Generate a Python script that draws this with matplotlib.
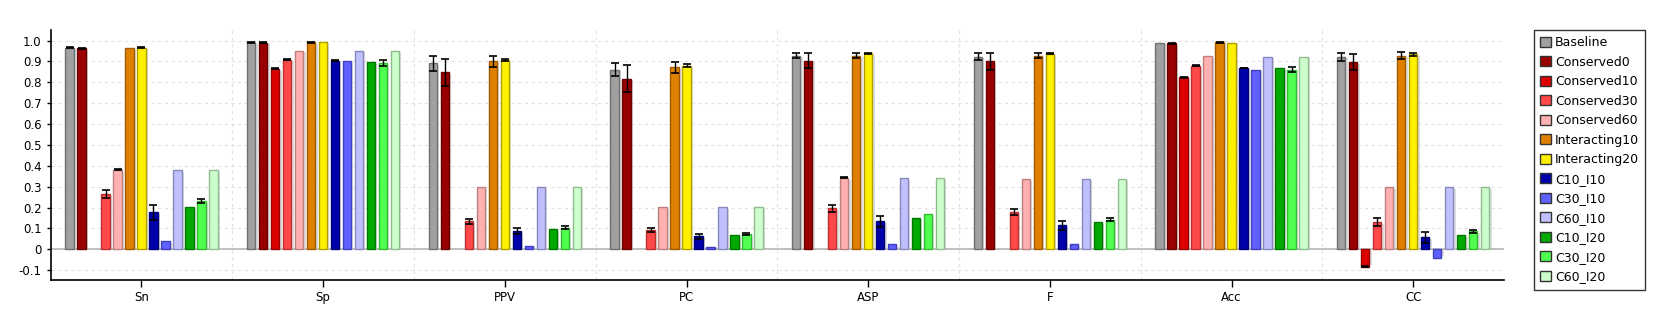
import numpy as np
import matplotlib
matplotlib.use('Agg')
import matplotlib.pyplot as plt
from matplotlib.patches import Patch

metrics = ['Sn', 'Sp', 'PPV', 'PC', 'ASP', 'F', 'Acc', 'CC']
series = ['Baseline', 'Conserved0', 'Conserved10', 'Conserved30', 'Conserved60',
          'Interacting10', 'Interacting20', 'C10_I10', 'C30_I10', 'C60_I10',
          'C10_I20', 'C30_I20', 'C60_I20']

# values per series, one entry per metric (Sn, Sp, PPV, PC, ASP, F, Acc, CC)
baseline      = [0.966, 0.992, 0.890, 0.861, 0.928, 0.923, 0.990, 0.923]
conserved0    = [0.962, 0.990, 0.847, 0.818, 0.904, 0.900, 0.986, 0.895]
conserved10   = [0.0, 0.864, 0.0, 0.0, 0.0, 0.0, 0.823, -0.083]
conserved30   = [0.263, 0.909, 0.134, 0.094, 0.196, 0.177, 0.880, 0.129]
conserved60   = [0.381, 0.952, 0.300, 0.204, 0.343, 0.338, 0.927, 0.300]
interacting10 = [0.962, 0.992, 0.900, 0.871, 0.928, 0.928, 0.992, 0.928]
interacting20 = [0.966, 0.995, 0.907, 0.880, 0.938, 0.936, 0.990, 0.933]
c10_i10       = [0.177, 0.903, 0.086, 0.062, 0.134, 0.115, 0.868, 0.057]
c30_i10       = [0.038, 0.903, 0.018, 0.013, 0.027, 0.027, 0.861, -0.043]
c60_i10       = [0.381, 0.952, 0.300, 0.204, 0.343, 0.338, 0.923, 0.300]
c10_i20       = [0.201, 0.898, 0.096, 0.070, 0.148, 0.129, 0.866, 0.070]
c30_i20       = [0.230, 0.893, 0.104, 0.075, 0.167, 0.142, 0.861, 0.086]
c60_i20       = [0.381, 0.952, 0.300, 0.204, 0.343, 0.338, 0.923, 0.300]

# error bar half widths
err_baseline      = [0.003, 0.002, 0.035, 0.032, 0.014, 0.018, 0.0, 0.019]
err_conserved0    = [0.003, 0.004, 0.066, 0.065, 0.035, 0.040, 0.003, 0.038]
err_conserved10   = [0.0, 0.002, 0.0, 0.0, 0.0, 0.0, 0.003, 0.003]
err_conserved30   = [0.019, 0.002, 0.013, 0.010, 0.017, 0.014, 0.004, 0.019]
err_conserved60   = [0.003, 0.0, 0.0, 0.0, 0.002, 0.0, 0.0, 0.0]
err_interacting10 = [0.0, 0.002, 0.027, 0.025, 0.013, 0.013, 0.002, 0.018]
err_interacting20 = [0.003, 0.0, 0.004, 0.006, 0.003, 0.003, 0.0, 0.005]
err_c10_i10       = [0.035, 0.002, 0.014, 0.013, 0.025, 0.022, 0.002, 0.027]
err_c30_i10       = [0.0, 0.0, 0.0, 0.0, 0.0, 0.0, 0.0, 0.0]
err_c60_i10       = [0.0, 0.0, 0.0, 0.0, 0.0, 0.0, 0.0, 0.0]
err_c10_i20       = [0.0, 0.0, 0.0, 0.0, 0.0, 0.0, 0.0, 0.0]
err_c30_i20       = [0.010, 0.014, 0.007, 0.005, 0.0, 0.007, 0.013, 0.007]
err_c60_i20       = [0.0, 0.0, 0.0, 0.0, 0.0, 0.0, 0.0, 0.0]

values = [baseline, conserved0, conserved10, conserved30, conserved60, interacting10,
          interacting20, c10_i10, c30_i10, c60_i10, c10_i20, c30_i20, c60_i20]
errors = [err_baseline, err_conserved0, err_conserved10, err_conserved30, err_conserved60,
          err_interacting10, err_interacting20, err_c10_i10, err_c30_i10, err_c60_i10,
          err_c10_i20, err_c30_i20, err_c60_i20]

colors = ['#a0a0a0', '#990000', '#dd0000', '#ff4848', '#ffb0b0', '#e08000', '#fff000',
          '#0000aa', '#6060ff', '#c0c0ff', '#00aa00', '#50ff50', '#ccffcc']
edges = ['#707070', '#6a0000', '#990000', '#bb3030', '#bb8080', '#a05a00', '#b0a000',
         '#000077', '#4040bb', '#8888bb', '#007700', '#30bb30', '#90bb90']

fig = plt.figure(figsize=(16.66, 3.34), dpi=100)
ax = fig.add_axes([0.0304, 0.1608, 0.8724, 0.7492])

ind = np.arange(len(metrics))
step = 0.066
width = 0.0457

for i in range(len(series)):
    v = np.array(values[i])
    e = np.array(errors[i])
    keep = v != 0
    x = (ind + (i - 6) * step)[keep]
    v = v[keep]
    e = e[keep]
    # light shadow to the right of each bar
    ax.bar(x + 0.012, v - 0.009 * np.sign(v), width, color='#dedede', zorder=2, linewidth=0)
    ax.bar(x, v, width, color=colors[i], edgecolor=edges[i], linewidth=1, zorder=3)
    m = e > 0
    ax.errorbar(x[m], v[m], yerr=e[m], fmt='none', ecolor='black', elinewidth=1,
                capsize=3, capthick=1.2, zorder=4)

ax.axhline(0, color='#b4b4b4', linewidth=1.2, zorder=2.5)
ax.set_xlim(-0.5, len(metrics) - 0.5)
ax.set_ylim(-0.148, 1.05)
ax.set_yticks(np.arange(-0.1, 1.01, 0.1))
ax.set_yticklabels(['-0.1', '0', '0.1', '0.2', '0.3', '0.4', '0.5', '0.6', '0.7', '0.8', '0.9', '1.0'])
ax.set_xticks(ind)
ax.set_xticklabels(metrics)
ax.tick_params(axis='both', labelsize=8.5, length=3, width=1, direction='out')
ax.tick_params(axis='x', length=5, pad=3)

for yv in np.arange(-0.1, 1.01, 0.1):
    if abs(yv) > 1e-6:
        ax.axhline(yv, color='#e2e2e2', linestyle=(0, (3, 3)), linewidth=0.8, zorder=1)
for xb in np.arange(0.5, len(metrics) - 1, 1.0):
    ax.axvline(xb, color='#e2e2e2', linestyle=(0, (3, 3)), linewidth=0.8, zorder=1)

ax.spines['top'].set_visible(False)
ax.spines['right'].set_visible(False)
ax.spines['left'].set_linewidth(1.2)
ax.spines['bottom'].set_linewidth(1.2)

handles = [Patch(facecolor=colors[i], edgecolor='#333333', linewidth=1) for i in range(len(series))]
leg = fig.legend(handles, series, loc='upper left', bbox_to_anchor=(0.9206, 0.91),
                 fontsize=9, frameon=True, fancybox=False, handlelength=0.85, handleheight=0.85,
                 handletextpad=0.35, labelspacing=0.52, borderpad=0.5, borderaxespad=0)
leg.get_frame().set_edgecolor('black')
leg.get_frame().set_linewidth(1)

plt.savefig('out.png', dpi=100)
